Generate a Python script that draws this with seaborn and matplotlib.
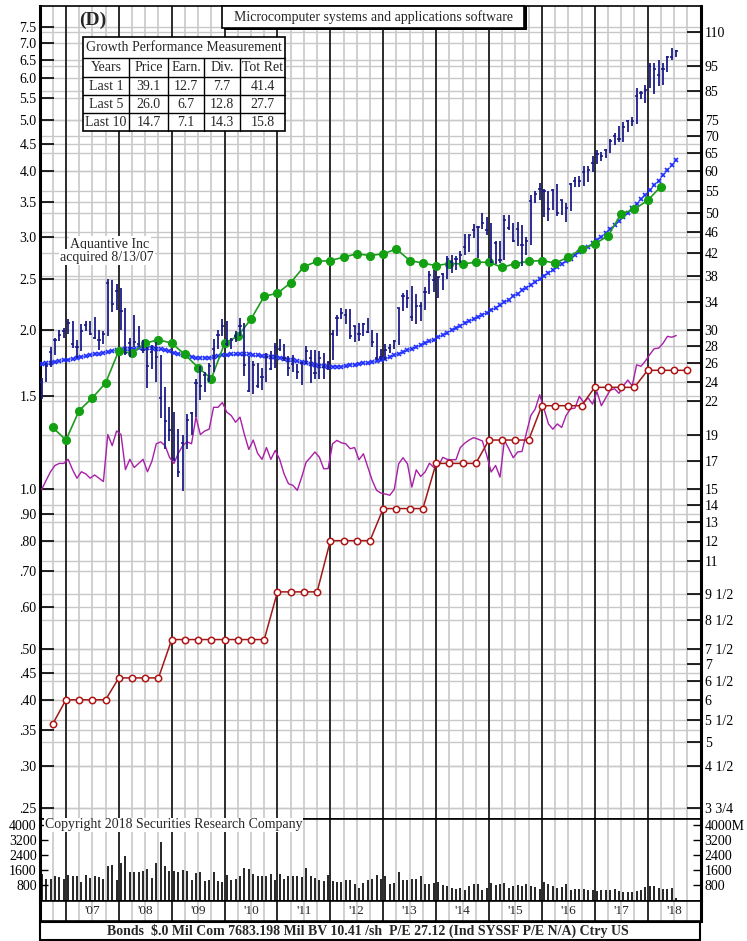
import matplotlib
matplotlib.use("Agg")
import numpy as np
import pandas as pd
import matplotlib.pyplot as plt
from matplotlib.lines import Line2D
from matplotlib.patches import Rectangle
from matplotlib.ticker import NullLocator, FixedLocator, FixedFormatter
import seaborn as sns

# ---------------- data ----------------
# monthly price bars Jul 2006 .. Jul 2018 (high, low, close)
price_high = [24.4, 26.0, 27.9, 28.95, 30.0, 30.3,
              31.5, 31.2, 28.8, 30.8, 31.2, 31.2, 31.8, 30.0, 29.9, 37.5, 37.4, 36.7,
              36.0, 33.0, 29.0, 32.1, 30.5, 28.8, 27.9, 28.1, 28.5, 26.9, 23.4, 21.5,
              21.0, 19.5, 19.0, 20.8, 21.0, 24.3, 25.7, 25.0, 26.0, 28.9, 30.1, 31.5,
              31.2, 29.0, 29.9, 31.6, 30.9, 26.8, 26.2, 26.0, 25.5, 27.2, 27.4, 28.4,
              28.9, 28.3, 26.8, 26.9, 25.9, 26.0, 28.0, 27.5, 27.5, 27.4, 27.2, 26.2,
              30.0, 32.0, 33.0, 32.9, 32.9, 30.6, 31.0, 31.0, 31.6, 30.0, 29.6, 27.7,
              28.2, 28.2, 28.8, 33.1, 35.3, 35.8, 36.4, 35.2, 34.0, 36.3, 38.9, 39.0,
              37.9, 38.5, 41.5, 41.7, 41.4, 42.3, 45.7, 45.5, 47.6, 47.2, 50.0, 49.2,
              47.9, 44.3, 44.2, 49.5, 49.5, 47.8, 48.0, 47.5, 45.1, 54.0, 55.0, 56.9,
              55.4, 55.1, 55.6, 56.8, 53.0, 52.3, 56.9, 58.5, 58.7, 61.4, 61.4, 64.1,
              65.9, 65.2, 66.2, 69.1, 70.7, 72.9, 74.4, 75.0, 76.0, 86.2, 85.1, 87.5,
              96.1, 96.1, 97.2, 96.0, 99.0, 102.7, 101.6]
price_low = [22.2, 23.9, 25.6, 26.9, 28.6, 29.0,
             29.5, 27.8, 26.6, 27.4, 29.9, 29.4, 28.9, 27.5, 28.2, 29.2, 32.5, 32.8,
             30.0, 26.9, 26.7, 27.9, 27.9, 27.2, 23.3, 25.3, 23.9, 20.5, 17.9, 18.5,
             17.0, 15.8, 14.9, 17.9, 19.0, 20.6, 22.1, 22.9, 24.0, 25.0, 27.6, 29.2,
             28.0, 27.6, 28.5, 29.2, 24.6, 22.9, 22.7, 23.3, 23.1, 24.0, 25.2, 25.5,
             27.4, 26.2, 24.6, 25.0, 24.3, 23.65, 25.9, 23.8, 24.3, 24.3, 24.3, 25.2,
             26.4, 29.2, 31.5, 30.8, 28.9, 28.5, 28.6, 29.2, 29.7, 27.9, 26.3, 26.3,
             26.4, 27.2, 27.6, 28.1, 32.6, 33.0, 31.2, 30.8, 31.3, 32.8, 35.1, 35.4,
             34.6, 35.7, 37.5, 38.5, 39.0, 40.2, 41.7, 42.1, 44.9, 41.05, 46.6, 45.5,
             40.2, 40.0, 40.2, 40.7, 46.4, 44.1, 43.3, 39.7, 41.7, 43.5, 52.2, 53.0,
             49.1, 48.2, 50.6, 49.4, 49.5, 48.0, 50.4, 56.1, 56.0, 56.3, 57.3, 59.8,
             61.9, 62.8, 63.6, 64.8, 67.1, 68.0, 68.0, 71.3, 72.9, 73.7, 82.2, 80.7,
             86.0, 83.8, 87.1, 87.5, 92.5, 97.3, 98.7]
price_close = [24.0, 25.7, 27.35, 28.7, 29.4, 29.9,
               30.9, 28.2, 27.9, 29.9, 30.7, 29.5, 29.0, 28.7, 29.5, 36.8, 33.6, 35.6,
               32.6, 27.2, 28.4, 28.5, 28.3, 27.5, 25.7, 27.3, 26.7, 22.3, 20.2, 19.4,
               17.1, 16.2, 18.4, 20.3, 20.9, 23.8, 23.5, 24.7, 25.7, 27.7, 29.4, 30.5,
               28.2, 28.7, 29.3, 30.5, 25.8, 23.0, 25.8, 23.5, 24.5, 26.7, 25.3, 27.9,
               27.7, 26.6, 25.4, 25.9, 25.0, 26.0, 27.4, 26.6, 24.9, 26.6, 25.6, 26.0,
               29.5, 31.7, 32.3, 32.0, 29.2, 30.6, 29.5, 30.8, 29.8, 28.5, 26.6, 26.7,
               27.5, 27.8, 28.6, 33.1, 34.9, 34.5, 31.8, 33.4, 33.3, 35.4, 38.1, 37.4,
               37.8, 38.3, 41.0, 40.4, 40.9, 41.7, 43.2, 45.4, 46.4, 47.0, 47.8, 46.5,
               40.4, 43.9, 40.7, 48.6, 46.9, 44.2, 46.7, 43.5, 44.3, 52.6, 54.4, 55.5,
               55.1, 50.9, 55.2, 49.9, 53.0, 51.2, 56.7, 57.5, 57.6, 59.9, 60.3, 62.1,
               64.7, 64.0, 65.9, 68.5, 69.8, 68.9, 72.7, 74.8, 74.5, 83.2, 84.2, 85.5,
               95.0, 93.8, 91.3, 93.5, 98.8, 98.6, 101.2]
# 48-month moving average of price (monthly)
moving_avg = [25.9, 26.0, 26.0, 26.1, 26.2, 26.3,
              26.4, 26.5, 26.6, 26.7, 26.8, 26.9, 27.0, 27.1, 27.2, 27.3, 27.4, 27.5,
              27.5, 27.6, 27.7, 27.7, 27.8, 27.8, 27.8, 27.8, 27.7, 27.6, 27.5, 27.4,
              27.2, 27.1, 26.9, 26.8, 26.7, 26.6, 26.6, 26.6, 26.6, 26.7, 26.8, 26.9,
              26.9, 27.0, 27.0, 27.0, 27.0, 27.0, 26.9, 26.9, 26.8, 26.8, 26.7, 26.7,
              26.6, 26.5, 26.4, 26.3, 26.2, 26.1, 26.0, 25.9, 25.8, 25.7, 25.7, 25.6,
              25.6, 25.6, 25.6, 25.7, 25.8, 25.8, 25.9, 26.0, 26.0, 26.1, 26.2, 26.4,
              26.5, 26.7, 26.9, 27.1, 27.3, 27.5, 27.7, 27.9, 28.1, 28.4, 28.6, 28.8,
              29.1, 29.4, 29.7, 30.0, 30.3, 30.6, 30.9, 31.2, 31.5, 31.8, 32.1, 32.4,
              32.7, 33.1, 33.5, 33.9, 34.3, 34.8, 35.2, 35.7, 36.1, 36.6, 37.0, 37.5,
              38.0, 38.5, 39.0, 39.5, 40.0, 40.5, 41.0, 41.6, 42.1, 42.7, 43.2, 43.8,
              44.4, 45.1, 45.8, 46.6, 47.4, 48.2, 49.1, 50.0, 51.0, 52.0, 53.1, 54.1,
              55.2, 56.4, 57.6, 58.9, 60.2, 61.5, 62.9]
# relative strength line (monthly, plotted on the earnings scale)
rel_strength = [1.00, 1.04, 1.08, 1.11, 1.12, 1.12,
                1.14, 1.09, 1.05, 1.08, 1.07, 1.05, 1.065, 1.05, 1.035, 1.27, 1.21, 1.29,
                1.27, 1.09, 1.14, 1.10, 1.12, 1.14, 1.08, 1.13, 1.22, 1.23, 1.21, 1.15,
                1.12, 1.17, 1.21, 1.23, 1.22, 1.37, 1.27, 1.29, 1.30, 1.43, 1.43, 1.46,
                1.40, 1.38, 1.34, 1.37, 1.27, 1.19, 1.24, 1.17, 1.14, 1.20, 1.14, 1.185,
                1.14, 1.07, 1.025, 1.018, 0.996, 1.055, 1.126, 1.15, 1.177, 1.151, 1.094, 1.095,
                1.22, 1.238, 1.225, 1.22, 1.194, 1.20, 1.138, 1.168, 1.102, 1.04, 0.996, 0.984,
                0.98, 0.975, 1.00, 1.118, 1.148, 1.118, 1.01, 1.089, 1.058, 1.079, 1.121, 1.10,
                1.105, 1.15, 1.14, 1.138, 1.138, 1.20, 1.223, 1.24, 1.253, 1.245, 1.235, 1.16,
                1.079, 1.11, 1.055, 1.238, 1.194, 1.148, 1.177, 1.18, 1.28, 1.38, 1.42, 1.51,
                1.42, 1.33, 1.30, 1.33, 1.31, 1.38, 1.42, 1.425, 1.50, 1.46, 1.49, 1.45,
                1.53, 1.44, 1.49, 1.54, 1.55, 1.52, 1.57, 1.61, 1.57, 1.72, 1.71, 1.75,
                1.80, 1.846, 1.85, 1.89, 1.948, 1.94, 1.955]
# quarterly earnings (12-month trailing), Sep 2006 .. Mar 2018
earnings = [1.31, 1.24, 1.41, 1.49, 1.59, 1.83, 1.81, 1.89, 1.92, 1.89, 1.80, 1.70,
            1.62, 1.89, 1.95, 2.10, 2.32, 2.35, 2.46, 2.64, 2.70, 2.71, 2.75, 2.79,
            2.77, 2.79, 2.85, 2.71, 2.68, 2.65, 2.675, 2.67, 2.69, 2.69, 2.63, 2.675,
            2.70, 2.71, 2.68, 2.75, 2.85, 2.91, 3.02, 3.32, 3.39, 3.52, 3.74]
# quarterly dividend rate, Sep 2006 .. Sep 2018
dividends = [0.36, 0.40, 0.40, 0.40, 0.40, 0.44, 0.44, 0.44, 0.44,
             0.52, 0.52, 0.52, 0.52, 0.52, 0.52, 0.52, 0.52,
             0.64, 0.64, 0.64, 0.64, 0.80, 0.80, 0.80, 0.80,
             0.92, 0.92, 0.92, 0.92, 1.12, 1.12, 1.12, 1.12,
             1.24, 1.24, 1.24, 1.24, 1.44, 1.44, 1.44, 1.44,
             1.56, 1.56, 1.56, 1.56, 1.68, 1.68, 1.68, 1.68]
# monthly volume (millions of shares)
volume = [1380, 1150, 1130, 1290, 1250, 1150, 1370, 1300, 1300, 980, 1370, 1200,
          1300, 1250, 1150, 1800, 1860, 1080, 1980, 2330, 1500, 1480, 1480, 1560,
          1670, 1200, 1980, 3080, 1840, 1560, 1540, 1500, 1630, 1560, 1100, 1450,
          1530, 1040, 1060, 1530, 1040, 980, 1370, 1100, 1120, 1300, 1720, 1670,
          1410, 1290, 1290, 1300, 1410, 1060, 1410, 1150, 1300, 1300, 1300, 1250,
          1720, 1300, 1180, 1060, 1040, 1370, 1040, 1000, 1000, 1060, 1060, 890,
          680, 930, 1100,
          1150, 1330, 1150, 1275, 855, 925, 1500, 1100, 1065, 1150,
          1150, 1275, 855, 855, 925, 980, 800, 750, 680, 625,
          680, 575, 750, 890, 890, 540, 680, 925, 800, 890,
          925, 680, 750, 800, 750, 855, 750, 715, 625, 980,
          855, 750, 680, 715, 855, 540, 625, 625, 625, 540,
          540, 500, 540, 575, 540, 610, 500, 470, 470, 470,
          500, 540, 715, 750, 750, 680, 625, 610, 680, 150]

years = list(range(2007, 2019))
year_labels = ["'07", "'08", "'09", "'10", "'11", "'12", "'13", "'14", "'15", "'16", "'17", "'18"]
left_ticks = [7.5, 7.0, 6.5, 6.0, 5.5, 5.0, 4.5, 4.0, 3.5, 3.0, 2.5, 2.0, 1.5, 1.0,
              0.90, 0.80, 0.70, 0.60, 0.50, 0.45, 0.40, 0.35, 0.30, 0.25]
left_labels = ["7.5", "7.0", "6.5", "6.0", "5.5", "5.0", "4.5", "4.0", "3.5", "3.0", "2.5",
               "2.0", "1.5", "1.0", ".90", ".80", ".70", ".60", ".50", ".45", ".40", ".35",
               ".30", ".25"]
right_ticks = [110, 95, 85, 75, 70, 65, 60, 55, 50, 46, 42, 38, 34, 30, 28, 26, 24, 22, 19,
               17, 15, 14, 13, 12, 11, 9.5, 8.5, 7.5, 7, 6.5, 6, 5.5, 5, 4.5, 3.75]
right_labels = ["110", "95", "85", "75", "70", "65", "60", "55", "50", "46", "42", "38", "34",
                "30", "28", "26", "24", "22", "19", "17", "15", "14", "13", "12", "11",
                "9 1/2", "8 1/2", "7 1/2", "7", "6 1/2", "6", "5 1/2", "5", "4 1/2", "3 3/4"]
vol_ticks = [800, 1600, 2400, 3200, 4000]
vol_left_labels = ["800", "1600", "2400", "3200", "4000"]
vol_right_labels = ["800", "1600", "2400", "3200", "4000M"]
table_rows = [["Years", "Price", "Earn.", "Div.", "Tot Ret"],
              ["Last 1", "39.1", "12.7", "7.7", "41.4"],
              ["Last 5", "26.0", "6.7", "12.8", "27.7"],
              ["Last 10", "14.7", "7.1", "14.3", "15.8"]]
PE_RATIO = 15.0  # price scale = earnings scale x 15

# ---------------- setup ----------------
W, H = 747, 941
sns.set_theme(style="white")
plt.rcParams['font.family'] = ['Liberation Serif', 'DejaVu Serif']
plt.rcParams['font.size'] = 10

fig = plt.figure(figsize=(W / 100, H / 100), dpi=100)
fig.patch.set_facecolor('white')

def fx(x):
    return x / W

def fy(y):
    return 1 - y / H

AX_L, AX_R = 39.5, 700.5
P_TOP, P_BOT = 5.5, 818.5
V_BOT = 900.5
S_BOT = 920.5

ax = fig.add_axes([fx(AX_L), fy(P_BOT), (AX_R - AX_L) / W, (P_BOT - P_TOP) / H])
axv = fig.add_axes([fx(AX_L), fy(V_BOT), (AX_R - AX_L) / W, (V_BOT - P_BOT) / H])
axs = fig.add_axes([fx(AX_L), fy(S_BOT), (AX_R - AX_L) / W, (S_BOT - V_BOT) / H])

n_m = len(price_high)
t_month = 2006.5 + (np.arange(n_m) + 0.5) / 12.0
t_earn = 2006.75 + 0.25 * np.arange(len(earnings))
t_div = 2006.75 + 0.25 * np.arange(len(dividends))
XMIN, XMAX = 2006.5, 2019.0
YMIN, YMAX = 0.2385, 8.23

GRID = '#c8c8c8'
YEARC = '#2b2b2b'

for a in (ax, axv, axs):
    a.set_xlim(XMIN, XMAX)
    a.set_facecolor('white')
    for q in np.arange(2006.75, 2019.0, 0.25):
        if abs(q - round(q)) < 1e-6:
            a.axvline(q, color=YEARC, lw=1.4, zorder=1)
        else:
            a.axvline(q, color=GRID, lw=1.2, zorder=0.5)
    a.set_xticks([])
    for s in a.spines.values():
        s.set_color('black')
        s.set_linewidth(1.2)
    a.spines['left'].set_linewidth(2.2)
    a.spines['right'].set_linewidth(2.2)

# ---------------- price panel ----------------
ax.set_yscale('log')
ax.set_ylim(YMIN, YMAX)
for v in left_ticks:
    ax.axhline(v, color=GRID, lw=1.0, zorder=0.4)
for v in right_ticks:
    ax.axhline(v / PE_RATIO, color=GRID, lw=1.0, zorder=0.4)

df_m = pd.DataFrame({'t': t_month, 'ma': np.array(moving_avg) / PE_RATIO,
                     'rs': rel_strength,
                     'hi': np.array(price_high) / PE_RATIO,
                     'lo': np.array(price_low) / PE_RATIO,
                     'cl': np.array(price_close) / PE_RATIO})
df_e = pd.DataFrame({'t': t_earn, 'e': earnings})
df_d = pd.DataFrame({'t': t_div, 'd': dividends})

sns.lineplot(data=df_m, x='t', y='rs', ax=ax, color='#a81fa8', lw=1.0, zorder=3)
sns.lineplot(data=df_d, x='t', y='d', ax=ax, color='#a01818', lw=1.1, marker='o',
             markersize=4.6, markerfacecolor='white', markeredgecolor='#b01515',
             markeredgewidth=1.1, zorder=4)
sns.lineplot(data=df_m, x='t', y='ma', ax=ax, color='#2233ff', lw=0.5, marker='x',
             markersize=3.2, markeredgewidth=1.2, markeredgecolor='#1f2fff', zorder=5)
sns.lineplot(data=df_e, x='t', y='e', ax=ax, color='#1f9a1f', lw=1.2, marker='o',
             markersize=5.8, markerfacecolor='#13a113', markeredgecolor='#13a113', zorder=6)
ax.vlines(df_m['t'], df_m['lo'], df_m['hi'], color='#1c1c8a', lw=1.3, zorder=7)
ax.hlines(df_m['cl'], df_m['t'] - 0.03, df_m['t'] + 0.03, color='#1c1c8a', lw=1.2, zorder=7)

ax.set_xlabel('')
ax.set_ylabel('')
ax.yaxis.set_major_locator(FixedLocator(left_ticks))
ax.yaxis.set_major_formatter(FixedFormatter(left_labels))
ax.yaxis.set_minor_locator(NullLocator())
ax.tick_params(axis='y', which='major', direction='in', length=10, width=1.2,
               pad=2, labelsize=10, left=True, right=False, colors='black')
ax.set_xticks([])

ax2 = ax.twinx()
ax2.set_yscale('log')
ax2.set_ylim(YMIN * PE_RATIO, YMAX * PE_RATIO)
ax2.yaxis.set_major_locator(FixedLocator(right_ticks))
ax2.yaxis.set_major_formatter(FixedFormatter(right_labels))
ax2.yaxis.set_minor_locator(NullLocator())
ax2.tick_params(axis='y', which='major', direction='in', length=10, width=1.2,
                pad=3, labelsize=10, right=True, left=False, colors='black')
for s in ax2.spines.values():
    s.set_visible(False)
ax2.grid(False)

# ---------------- volume panel ----------------
axv.set_ylim(0, 4330)
axv.vlines(t_month, 0, volume, color='black', lw=1.2, zorder=3)
axv.yaxis.set_major_locator(FixedLocator(vol_ticks))
axv.yaxis.set_major_formatter(FixedFormatter(vol_left_labels))
axv.tick_params(axis='y', direction='in', length=6, width=1.0, pad=2, labelsize=10,
                left=True, right=False, colors='black')
axv2 = axv.twinx()
axv2.set_ylim(0, 4330)
axv2.yaxis.set_major_locator(FixedLocator(vol_ticks))
axv2.yaxis.set_major_formatter(FixedFormatter(vol_right_labels))
axv2.tick_params(axis='y', direction='in', length=6, width=1.0, pad=3, labelsize=10,
                 right=True, left=False, colors='black')
for s in axv2.spines.values():
    s.set_visible(False)
axv.text(2006.6, 4000, 'Copyright 2018 Securities Research Company', fontsize=10,
         va='center', ha='left', zorder=6,
         bbox=dict(facecolor='white', edgecolor='none', pad=0.5))

# ---------------- year strip ----------------
axs.set_ylim(0, 1)
axs.set_yticks([])
for yv, lab in zip(years, year_labels):
    axs.text(yv + 0.5, 0.45, lab, ha='center', va='center', fontsize=9.5)

# ---------------- annotations ----------------
fig.text(fx(93), fy(20), '(D)', fontsize=14, fontweight='bold', ha='center', va='center')

# title box with shadow
fig.patches.append(Rectangle((fx(224), fy(30)), (303) / W, 3 / H, transform=fig.transFigure,
                             facecolor='black', edgecolor='none', zorder=9))
fig.patches.append(Rectangle((fx(524), fy(30)), 3 / W, 24 / H, transform=fig.transFigure,
                             facecolor='black', edgecolor='none', zorder=9))
fig.patches.append(Rectangle((fx(222), fy(28)), 302 / W, 22 / H, transform=fig.transFigure,
                             facecolor='white', edgecolor='black', lw=1.2, zorder=10))
fig.text(fx(373), fy(17), 'Microcomputer systems and applications software', fontsize=10,
         ha='center', va='center', zorder=11)

# growth table
col_edges = [83, 129, 168, 204, 240, 285]
row_edges = [37, 58, 77, 95, 113, 131]
fig.patches.append(Rectangle((fx(col_edges[0]), fy(row_edges[-1])),
                             (col_edges[-1] - col_edges[0]) / W,
                             (row_edges[-1] - row_edges[0]) / H,
                             transform=fig.transFigure, facecolor='white',
                             edgecolor='black', lw=1.2, zorder=10))
for ry in row_edges[1:-1]:
    fig.lines.append(Line2D([fx(col_edges[0]), fx(col_edges[-1])], [fy(ry), fy(ry)],
                            transform=fig.transFigure, color='black', lw=1.0, zorder=11))
for cx in col_edges[1:-1]:
    fig.lines.append(Line2D([fx(cx), fx(cx)], [fy(row_edges[1]), fy(row_edges[-1])],
                            transform=fig.transFigure, color='black', lw=1.0, zorder=11))
fig.text(fx((col_edges[0] + col_edges[-1]) / 2), fy((row_edges[0] + row_edges[1]) / 2),
         'Growth Performance Measurement', fontsize=10, ha='center', va='center', zorder=12)
for r, row in enumerate(table_rows):
    yc = (row_edges[r + 1] + row_edges[r + 2]) / 2
    for c, txt in enumerate(row):
        xc = (col_edges[c] + col_edges[c + 1]) / 2
        fig.text(fx(xc), fy(yc), txt, fontsize=10, ha='center', va='center', zorder=12)

# acquisition note
fig.text(fx(110), fy(244), 'Aquantive Inc', fontsize=10, ha='center', va='center', zorder=12,
         bbox=dict(facecolor='white', edgecolor='none', pad=1.0))
fig.text(fx(107), fy(257), 'acquired 8/13/07', fontsize=10, ha='center', va='center', zorder=12,
         bbox=dict(facecolor='white', edgecolor='none', pad=1.0))

# bottom info box
fig.patches.append(Rectangle((fx(40), fy(940)), 660 / W, 18 / H, transform=fig.transFigure,
                             facecolor='white', edgecolor='black', lw=1.5, zorder=10))
fig.text(fx(368), fy(931), 'Bonds  $.0 Mil Com 7683.198 Mil BV 10.41 /sh  P/E 27.12 (Ind SYSSF P/E N/A) Ctry US',
         fontsize=10, fontweight='bold', ha='center', va='center', zorder=12)

fig.savefig('out.png', dpi=100, facecolor='white')
